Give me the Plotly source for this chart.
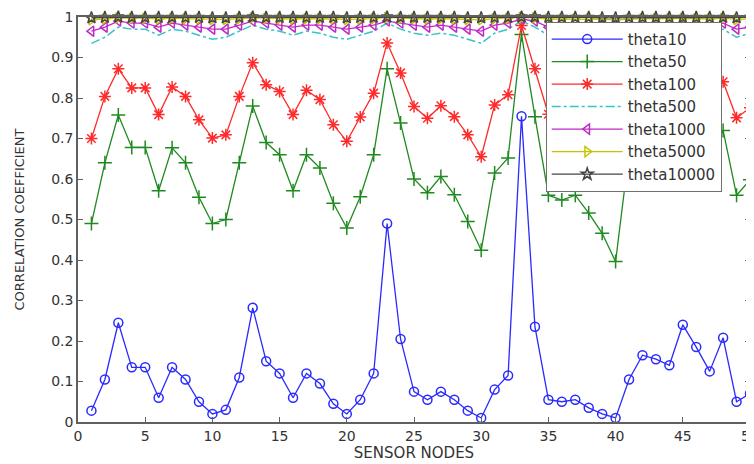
import plotly.graph_objects as go

nodes = list(range(1, 51))

theta10 = [0.028, 0.105, 0.245, 0.135, 0.135, 0.06, 0.135, 0.105, 0.05, 0.02,
           0.03, 0.11, 0.282, 0.15, 0.12, 0.06, 0.12, 0.095, 0.045, 0.02,
           0.055, 0.12, 0.49, 0.205, 0.075, 0.055, 0.075, 0.055, 0.028, 0.01,
           0.08, 0.115, 0.755, 0.235, 0.055, 0.05, 0.055, 0.035, 0.02, 0.01,
           0.105, 0.165, 0.155, 0.14, 0.24, 0.185, 0.125, 0.208, 0.05, 0.07]

theta50 = [0.49, 0.64, 0.758, 0.678, 0.678, 0.571, 0.677, 0.64, 0.555, 0.49,
           0.5, 0.64, 0.78, 0.69, 0.66, 0.571, 0.66, 0.627, 0.54, 0.479,
           0.556, 0.66, 0.872, 0.738, 0.60, 0.566, 0.606, 0.561, 0.495, 0.424,
           0.615, 0.652, 0.957, 0.754, 0.56, 0.548, 0.56, 0.516, 0.466, 0.396,
           0.665, 0.70, 0.68, 0.66, 0.76, 0.71, 0.65, 0.72, 0.56, 0.598]

theta100 = [0.70, 0.804, 0.872, 0.825, 0.825, 0.759, 0.827, 0.804, 0.746, 0.701,
            0.709, 0.804, 0.887, 0.833, 0.816, 0.759, 0.819, 0.796, 0.734, 0.693,
            0.753, 0.812, 0.936, 0.862, 0.779, 0.75, 0.781, 0.754, 0.709, 0.655,
            0.783, 0.808, 0.979, 0.872, 0.76, 0.74, 0.76, 0.73, 0.70, 0.66,
            0.78, 0.83, 0.82, 0.81, 0.87, 0.84, 0.80, 0.84, 0.751, 0.776]

theta500 = [0.935, 0.95, 0.975, 0.97, 0.97, 0.955, 0.97, 0.965, 0.955, 0.945,
            0.95, 0.965, 0.98, 0.97, 0.965, 0.955, 0.965, 0.96, 0.95, 0.945,
            0.955, 0.965, 0.985, 0.97, 0.96, 0.955, 0.96, 0.955, 0.945, 0.935,
            0.96, 0.97, 0.99, 0.975, 0.955, 0.95, 0.955, 0.95, 0.94, 0.93,
            0.96, 0.97, 0.965, 0.96, 0.975, 0.965, 0.955, 0.97, 0.95, 0.96]

theta1000 = [0.965, 0.975, 0.99, 0.985, 0.985, 0.975, 0.985, 0.98, 0.975, 0.97,
             0.97, 0.98, 0.99, 0.985, 0.98, 0.975, 0.98, 0.98, 0.975, 0.97,
             0.975, 0.98, 0.99, 0.985, 0.98, 0.975, 0.98, 0.975, 0.97, 0.965,
             0.98, 0.985, 0.995, 0.99, 0.975, 0.975, 0.975, 0.975, 0.97, 0.965,
             0.975, 0.98, 0.98, 0.98, 0.985, 0.98, 0.975, 0.985, 0.97, 0.975]

theta5000 = [0.993, 0.995, 0.998, 0.997, 0.997, 0.995, 0.997, 0.996, 0.995, 0.994,
             0.994, 0.996, 0.998, 0.997, 0.996, 0.995, 0.996, 0.996, 0.995, 0.994,
             0.995, 0.996, 0.999, 0.997, 0.996, 0.995, 0.996, 0.995, 0.994, 0.993,
             0.996, 0.997, 0.999, 0.998, 0.995, 0.995, 0.995, 0.995, 0.994, 0.993,
             0.995, 0.996, 0.996, 0.996, 0.997, 0.996, 0.995, 0.997, 0.994, 0.995]

theta10000 = [0.998, 0.999, 1.0, 0.999, 0.999, 0.999, 0.999, 0.999, 0.999, 0.998,
              0.998, 0.999, 1.0, 0.999, 0.999, 0.999, 0.999, 0.999, 0.999, 0.998,
              0.999, 0.999, 1.0, 0.999, 0.999, 0.999, 0.999, 0.999, 0.998, 0.998,
              0.999, 0.999, 1.0, 1.0, 0.999, 0.999, 0.999, 0.999, 0.998, 0.998,
              0.999, 0.999, 0.999, 0.999, 0.999, 0.999, 0.999, 0.999, 0.998, 0.999]

x_ticks = [0, 5, 10, 15, 20, 25, 30, 35, 40, 45, 50]
y_ticks = [0, 0.1, 0.2, 0.3, 0.4, 0.5, 0.6, 0.7, 0.8, 0.9, 1]
y_tick_labels = ["0", "0.1", "0.2", "0.3", "0.4", "0.5", "0.6", "0.7", "0.8", "0.9", "1"]

series = [
    ("theta10", theta10, "#2a2aff", "circle-open", 9, "solid"),
    ("theta50", theta50, "#1f8a1f", "cross-thin-open", 10, "solid"),
    ("theta100", theta100, "#ff2a2a", "asterisk-open", 10, "solid"),
    ("theta500", theta500, "#38c4c4", None, 0, "dashdot"),
    ("theta1000", theta1000, "#c02ac4", "triangle-left-open", 9, "solid"),
    ("theta5000", theta5000, "#c4c400", "triangle-right-open", 9, "solid"),
    ("theta10000", theta10000, "#454545", "star-open", 9, "solid"),
]

fig = go.Figure()
for name, vals, color, sym, size, dash in series:
    if sym is None:
        fig.add_trace(go.Scatter(x=nodes, y=vals, name=name, mode="lines",
                                 line=dict(color=color, width=1.5, dash=dash),
                                 cliponaxis=False))
    else:
        fig.add_trace(go.Scatter(x=nodes, y=vals, name=name, mode="lines+markers",
                                 line=dict(color=color, width=1.3, dash=dash),
                                 marker=dict(symbol=sym, size=size, color=color,
                                             line=dict(color=color, width=1.5)),
                                 cliponaxis=False))

axis_common = dict(showline=True, linecolor="#606060", linewidth=1.5, mirror="ticks",
                   ticks="inside", ticklen=5, tickcolor="#606060", tickwidth=1,
                   showgrid=False, zeroline=False, automargin=False,
                   ticklabeloverflow="allow",
                   tickfont=dict(family="DejaVu Sans", size=14, color="#333333"))

fig.update_layout(
    width=746, height=456,
    margin=dict(l=70, r=4, t=9, b=42),
    paper_bgcolor="white", plot_bgcolor="white",
    font=dict(family="DejaVu Sans", color="#333333"),
    showlegend=True,
    legend=dict(x=0.696, y=0.988, xanchor="left", yanchor="top",
                bgcolor="white", bordercolor="#707070", borderwidth=1,
                font=dict(family="DejaVu Sans", size=15, color="#333333"),
                itemwidth=71, tracegroupgap=0),
)
fig.update_xaxes(range=[0, 50], tickvals=x_ticks,
                 title=dict(text="SENSOR NODES", standoff=2,
                            font=dict(family="DejaVu Sans", size=15, color="#333333")),
                 **axis_common)
fig.update_yaxes(range=[0, 1], tickvals=y_ticks, ticktext=y_tick_labels,
                 title=dict(text="CORRELATION COEFFICIENT", standoff=24,
                            font=dict(family="DejaVu Sans", size=13, color="#333333")),
                 **axis_common)

fig.write_html("out.html")
